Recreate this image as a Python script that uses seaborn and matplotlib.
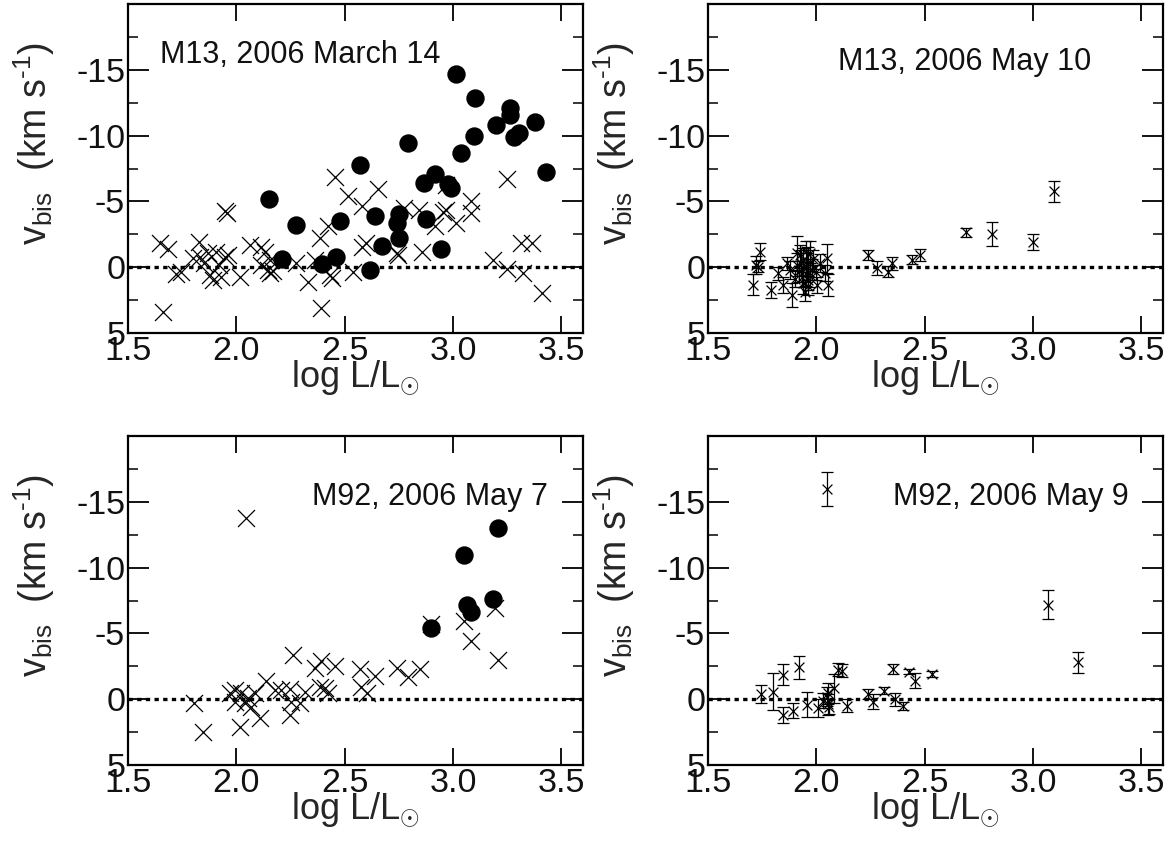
import numpy as np
import pandas as pd
import matplotlib
matplotlib.use("Agg")
import matplotlib.pyplot as plt
import seaborn as sns

sns.set_style("ticks")
plt.rcParams['font.family'] = ['Liberation Sans', 'DejaVu Sans']
plt.rcParams['axes.unicode_minus'] = False
plt.rcParams['mathtext.fontset'] = 'custom'
plt.rcParams['mathtext.rm'] = 'Liberation Sans'

# ---------------- data ----------------
# Panel 1: M13, 2006 March 14
p1_cross_x = [1.649, 1.685, 1.723, 1.746, 1.662, 1.826, 1.80, 1.83, 1.869, 1.877, 1.908, 1.931,
              1.946, 1.962, 1.958, 1.946, 2.015, 2.062, 2.115, 2.131, 2.115, 2.146, 2.154, 2.154,
              2.277, 2.331, 2.385, 2.362, 2.392, 2.431, 2.423, 2.457, 2.515, 1.85, 1.89, 1.92,
              2.17, 2.44, 2.578, 2.655, 2.578, 2.60, 2.54, 2.747, 2.74, 2.773, 2.842, 2.857,
              2.919, 2.966, 2.955, 3.012, 2.966, 3.085, 3.085, 3.251, 3.185, 3.247, 3.316,
              3.363, 3.324, 3.412]
p1_cross_v = [-1.83, -1.37, 0.53, 0.33, 3.38, -1.95, -0.69, -0.81, -1.07, 0.58, -1.19, 0.71,
              -0.81, -0.94, -4.11, -4.24, 0.71, -1.70, -1.57, -1.19, -0.18, 0.20, -0.56, 0.46,
              -0.30, 1.09, -2.21, -0.56, 3.12, 0.58, -3.10, -6.85, -5.38, -0.3, 1.0, -0.2,
              0.3, 0.8, -4.62, -5.94, -1.57, -1.83, 0.33, -0.94, -1.1, -4.49, -4.37, -1.19,
              -3.10, -4.37, -4.2, -3.35, -6.27, -5.0, -4.11, -6.73, -0.56, 0.15, -1.83,
              -1.83, 0.46, 1.93]
p1_dot_x = [3.013, 3.103, 3.20, 3.265, 3.265, 3.283, 3.305, 3.378, 3.427, 3.097, 3.039, 2.792,
            2.570, 2.917, 2.865, 2.978, 2.992, 2.874, 2.943, 2.752, 2.743, 2.752, 2.670, 2.639,
            2.477, 2.149, 2.277, 2.213, 2.396, 2.46, 2.617]
p1_dot_v = [-14.7, -12.84, -10.8, -12.1, -11.6, -9.9, -10.2, -11.0, -7.2, -10.0, -8.7, -9.4,
            -7.8, -7.07, -6.4, -6.35, -6.05, -3.7, -1.4, -4.07, -3.36, -2.24, -1.58, -3.9,
            -3.5, -5.19, -3.18, -0.61, -0.25, -0.81, 0.25]

# Panel 2: M13, 2006 May 10 (with errors)
p2_x = [1.709, 1.72, 1.74, 1.733, 1.791, 1.825, 1.848, 1.863, 1.886, 1.909, 1.932, 1.948,
        1.94, 1.955, 1.963, 1.971, 1.978, 2.002, 2.017, 2.048, 2.052, 2.04, 1.92, 1.93,
        1.95, 1.96, 1.94, 1.97, 1.985, 1.90, 1.88, 1.95, 2.00, 1.91, 1.96, 1.925,
        2.24, 2.278, 2.332, 2.347, 2.443, 2.478, 2.69, 2.81, 3.0, 3.097]
p2_v = [1.35, -0.18, -1.19, -0.05, 1.73, 0.46, 1.35, -0.3, 2.1, -1.07, 0.71, 1.85,
        -0.56, -0.05, 0.96, -1.07, 0.2, 1.35, -0.3, -0.69, 1.35, 0.46, 0.3, -0.3,
        0.5, -0.4, 1.2, 0.6, -0.6, 0.9, 0.2, -1.2, 0.4, -0.2, 1.4, -0.9,
        -0.94, 0.08, 0.33, -0.3, -0.56, -0.94, -2.64, -2.54, -1.9, -5.76]
p2_err = [0.8, 0.7, 0.66, 0.4, 0.6, 0.5, 0.6, 0.5, 0.9, 1.3, 0.8, 0.7,
          0.9, 1.0, 0.8, 0.9, 0.8, 0.6, 0.7, 1.1, 0.85, 0.6, 0.8, 1.0,
          0.9, 1.1, 0.8, 0.9, 0.7, 0.6, 0.7, 0.8, 0.6, 0.9, 0.7, 0.8,
          0.4, 0.55, 0.4, 0.5, 0.35, 0.48, 0.34, 0.9, 0.6, 0.79]

# Panel 3: M92, 2006 May 7
p3_cross_x = [2.046, 3.208, 3.085, 3.051, 3.192, 2.897, 2.846, 2.792, 2.743, 2.638, 2.569,
              2.577, 2.605, 2.454, 2.392, 2.362, 2.408, 2.423, 2.385, 2.262, 2.315, 2.246,
              2.246, 2.254, 2.292, 2.208, 2.138, 2.177, 2.108, 2.085, 2.054, 2.038, 2.023,
              1.992, 1.969, 1.992, 2.015, 1.846, 1.805, 2.069]
p3_cross_v = [-13.78, -3.0, -4.39, -5.91, -6.93, -5.74, -2.28, -1.68, -2.36, -1.78, -2.28,
              -0.91, -0.46, -2.49, -2.87, -2.36, -0.84, -0.46, -0.96, -3.38, -0.51, -0.76,
              1.19, 0.18, 0.3, -0.71, -1.35, -0.71, 1.45, -0.46, -0.08, 0.3, -0.46,
              -0.71, -0.46, 0.25, 2.08, 2.46, 0.3, 0.56]
p3_dot_x = [3.208, 3.051, 3.185, 3.066, 3.085, 2.897]
p3_dot_v = [-13.02, -10.94, -7.64, -7.18, -6.62, -5.41]

# Panel 4: M92, 2006 May 9 (with errors)
p4_x = [2.048, 1.743, 1.801, 1.848, 1.845, 1.894, 1.922, 1.958, 2.009, 2.03, 2.048, 2.052,
        2.056, 2.06, 2.08, 2.10, 2.117, 2.14, 2.24, 2.26, 2.31, 2.356, 2.363, 2.398,
        2.429, 2.455, 2.535, 3.068, 3.209]
p4_v = [-15.99, -0.41, -0.58, -1.85, 1.19, 0.86, -2.41, 0.43, 0.69, 0.1, -0.2, 0.4,
        -0.46, 0.56, -0.84, -2.23, -2.18, 0.5, -0.38, 0.18, -0.66, -2.28, 0.0, 0.5,
        -2.1, -1.42, -1.9, -7.18, -2.82]
p4_err = [1.3, 0.7, 1.4, 0.8, 0.6, 0.6, 0.9, 0.95, 0.7, 0.6, 0.7, 0.8,
          0.8, 0.6, 1.1, 0.5, 0.5, 0.5, 0.4, 0.55, 0.3, 0.4, 0.5, 0.3,
          0.2, 0.55, 0.25, 1.1, 0.8]

titles = ["M13, 2006 March 14", "M13, 2006 May 10", "M92, 2006 May 7", "M92, 2006 May 9"]
title_pos = [(1.65, -16.1, 'left'), (2.10, -15.6, 'left'), (3.44, -15.4, 'right'), (3.44, -15.4, 'right')]

xticks = [1.5, 2.0, 2.5, 3.0, 3.5]
xticklabels = ["1.5", "2.0", "2.5", "3.0", "3.5"]
yticks = [5, 0, -5, -10, -15]
yticklabels = ["5", "0", "-5", "-10", "-15"]
yminor = [2.5, -2.5, -7.5, -12.5, -17.5]

# ---------------- figure ----------------
fig = plt.figure(figsize=(11.74, 8.42), dpi=100)
W, H = 1174, 842
def box(l, r, t, b):
    return [l / W, (H - b) / H, (r - l) / W, (b - t) / H]

axes = [fig.add_axes(box(128, 583, 4, 333)),
        fig.add_axes(box(708, 1163, 4, 333)),
        fig.add_axes(box(128, 583, 436, 765)),
        fig.add_axes(box(708, 1163, 436, 765))]

fs_tick = 24.5
fs_lab = 26
fs_ylab = 27
fs_title = 22

def style(ax, i):
    ax.set_xlim(1.5, 3.6)
    ax.set_ylim(5, -20)
    ax.set_xticks(xticks)
    ax.set_xticklabels(xticklabels)
    ax.set_yticks(yticks)
    ax.set_yticklabels(yticklabels)
    ax.set_yticks(yminor, minor=True)
    ax.tick_params(axis='both', which='major', direction='in', top=True, right=True,
                   labelsize=fs_tick, width=1.3, color='black', pad=2, labelcolor='#111111')
    ax.tick_params(axis='y', which='major', length=15)
    ax.tick_params(axis='x', which='major', length=12)
    ax.tick_params(axis='y', which='minor', direction='in', right=True, length=7.5, width=1.3)
    ax.tick_params(axis='x', which='minor', bottom=False, top=False)
    for s in ax.spines.values():
        s.set_linewidth(1.6)
        s.set_color('black')
    ax.axhline(0, color='black', lw=2.4, ls=(0, (1.3, 1.3)), zorder=1)
    ax.set_xlabel(r"log L/L$_{\odot}$", fontsize=fs_lab, labelpad=-6)
    ax.set_ylabel(r"v$_{\mathregular{bis}}$  (km s$^{\text{-1}}$)", fontsize=fs_ylab)
    ax.yaxis.set_label_coords(-0.155, 0.575)
    tx, ty, ha = title_pos[i]
    ax.text(tx, ty, titles[i], fontsize=fs_title, ha=ha, va='center', color='#111111')

# panel 1
ax = axes[0]
d1c = pd.DataFrame({"x": p1_cross_x, "v": p1_cross_v})
d1d = pd.DataFrame({"x": p1_dot_x, "v": p1_dot_v})
sns.scatterplot(data=d1c, x="x", y="v", marker="x", s=150, color="black", linewidth=0.9, ax=ax, zorder=3)
sns.scatterplot(data=d1d, x="x", y="v", marker="o", s=150, color="black", edgecolor="black", ax=ax, zorder=4)
style(ax, 0)

# panel 2
ax = axes[1]
d2 = pd.DataFrame({"x": p2_x, "v": p2_v, "e": p2_err})
ax.errorbar(d2["x"], d2["v"], yerr=d2["e"], fmt='none', ecolor='black', elinewidth=0.9, capsize=4, capthick=0.9, zorder=3)
sns.scatterplot(data=d2, x="x", y="v", marker="x", s=50, color="black", linewidth=0.9, ax=ax, zorder=4)
style(ax, 1)

# panel 3
ax = axes[2]
d3c = pd.DataFrame({"x": p3_cross_x, "v": p3_cross_v})
d3d = pd.DataFrame({"x": p3_dot_x, "v": p3_dot_v})
sns.scatterplot(data=d3c, x="x", y="v", marker="x", s=150, color="black", linewidth=0.9, ax=ax, zorder=3)
sns.scatterplot(data=d3d, x="x", y="v", marker="o", s=150, color="black", edgecolor="black", ax=ax, zorder=4)
style(ax, 2)

# panel 4
ax = axes[3]
d4 = pd.DataFrame({"x": p4_x, "v": p4_v, "e": p4_err})
ax.errorbar(d4["x"], d4["v"], yerr=d4["e"], fmt='none', ecolor='black', elinewidth=0.9, capsize=4, capthick=0.9, zorder=3)
sns.scatterplot(data=d4, x="x", y="v", marker="x", s=50, color="black", linewidth=0.9, ax=ax, zorder=4)
style(ax, 3)

fig.savefig("out.png", dpi=100)
